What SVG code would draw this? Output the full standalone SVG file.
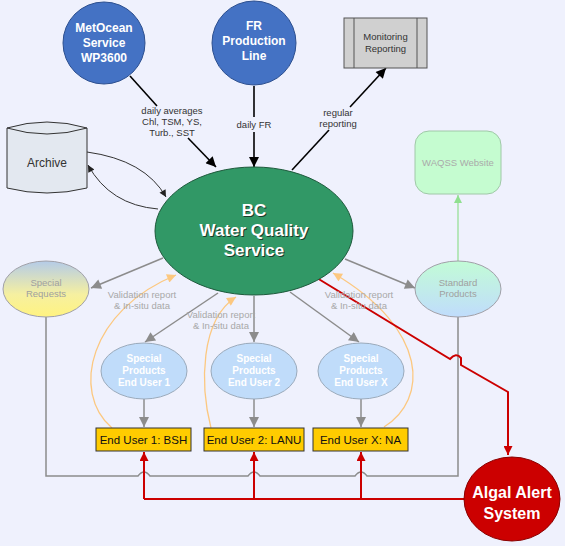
<svg xmlns="http://www.w3.org/2000/svg" width="565" height="546" viewBox="0 0 565 546">
<defs>
<style>
.t{font-family:"Liberation Sans",Arial,sans-serif;text-anchor:middle}
.wb{fill:#fff;font-weight:bold}
.lab{font-size:9.5px;fill:#333}
.val{font-size:9.5px;fill:#a8a8a8}
.gl{fill:none;stroke:#8c8c8c;stroke-width:1.5}
.bl{fill:none;stroke:#000;stroke-width:1.6}
.or{fill:none;stroke:#fcc880;stroke-width:1.3}
.rd{fill:none;stroke:#cc0000;stroke-width:2}
.sp{fill:#c0dcfa;stroke:#9aaabb;stroke-width:1}
.box{fill:#ffcc00;stroke:#333;stroke-width:1}
</style>
<marker id="ab" viewBox="0 0 10 10" refX="10" refY="5" markerUnits="userSpaceOnUse" markerWidth="12" markerHeight="10" orient="auto"><path d="M0,0L10,5L0,10z" fill="#000"/></marker>
<marker id="ag" viewBox="0 0 10 10" refX="10" refY="5" markerUnits="userSpaceOnUse" markerWidth="12" markerHeight="10" orient="auto"><path d="M0,0L10,5L0,10z" fill="#8c8c8c"/></marker>
<marker id="ao" viewBox="0 0 10 10" refX="10" refY="5" markerUnits="userSpaceOnUse" markerWidth="10" markerHeight="9" orient="auto"><path d="M0,0L10,5L0,10z" fill="#fcc880"/></marker>
<marker id="ar" viewBox="0 0 10 10" refX="10" refY="5" markerUnits="userSpaceOnUse" markerWidth="12" markerHeight="9" orient="auto"><path d="M0,0L10,5L0,10z" fill="#cc0000"/></marker>
<marker id="agr" viewBox="0 0 10 10" refX="10" refY="5" markerUnits="userSpaceOnUse" markerWidth="9" markerHeight="8" orient="auto"><path d="M0,0L10,5L0,10z" fill="#90e090"/></marker>
<marker id="ad" viewBox="0 0 10 10" refX="10" refY="5" markerUnits="userSpaceOnUse" markerWidth="8" markerHeight="7" orient="auto"><path d="M0,0L10,5L0,10z" fill="#222"/></marker>
<linearGradient id="gReq" x1="0" y1="0" x2="0" y2="1"><stop offset="0" stop-color="#b4cbe8"/><stop offset="0.6" stop-color="#f6f0a0"/><stop offset="1" stop-color="#fff380"/></linearGradient>
<linearGradient id="gStd" x1="0" y1="0" x2="0" y2="1"><stop offset="0" stop-color="#c2fcd6"/><stop offset="1" stop-color="#c0dcfc"/></linearGradient>
</defs>
<rect width="565" height="546" fill="#eff1fd"/>

<g id="connectors">
<!-- MetOcean -> BC -->
<path class="bl" d="M130,76L157,106"/>
<path class="bl" d="M188,138L216,167" marker-end="url(#ab)"/>
<!-- FR -> BC -->
<path class="bl" d="M254,86L254,117"/>
<path class="bl" d="M254,132L254,167" marker-end="url(#ab)"/>
<!-- BC -> Monitoring -->
<path class="bl" d="M292,170L329,130"/>
<path class="bl" d="M350,107L386,68" marker-end="url(#ab)"/>
<!-- Archive <-> BC -->
<path d="M87,152Q145,160 166,197" fill="none" stroke="#333" stroke-width="1" marker-end="url(#ad)"/>
<path d="M158,209Q110,205 88,165" fill="none" stroke="#333" stroke-width="1" marker-end="url(#ad)"/>
<!-- BC -> outputs -->
<path class="gl" d="M163,258L91,288" marker-end="url(#ag)"/>
<path class="gl" d="M218,293L145,342" marker-end="url(#ag)"/>
<path class="gl" d="M254,296L254,342" marker-end="url(#ag)"/>
<path class="gl" d="M290,292L359,342" marker-end="url(#ag)"/>
<path class="gl" d="M345,259L415,288" marker-end="url(#ag)"/>
<!-- Standard -> WAQSS -->
<path d="M458,261L458,195" fill="none" stroke="#90e090" stroke-width="1.2" marker-end="url(#agr)"/>
<!-- Special products -> end users -->
<path class="gl" d="M144,399L144,427" marker-end="url(#ag)"/>
<path class="gl" d="M254,399L254,427" marker-end="url(#ag)"/>
<path class="gl" d="M361,399L361,427" marker-end="url(#ag)"/>
<!-- bottom gray loop -->
<path class="gl" d="M46,317L46,476L138,476Q144,468 150,476L248,476Q254,468 260,476L355,476Q361,468 367,476L458,476L458,317"/>
<!-- validation feedback -->
<path class="or" d="M112,428C70,392 90,310 176,275" marker-end="url(#ao)"/>
<path class="or" d="M211,428C200,385 200,320 236,297" marker-end="url(#ao)"/>
<path class="or" d="M384,427C428,400 430,330 333,273" marker-end="url(#ao)"/>
<!-- red alert -->
<path class="rd" d="M317,278L450,359Q456,352 461,358L461,365L508,392L508,455" marker-end="url(#ar)"/>
<path class="rd" d="M464,499L144,499"/>
<path class="rd" d="M144,499L144,452" marker-end="url(#ar)"/>
<path class="rd" d="M254,499L254,452" marker-end="url(#ar)"/>
<path class="rd" d="M361,499L361,452" marker-end="url(#ar)"/>
<!-- labels -->
<text class="t lab" x="172" y="114">daily averages</text>
<text class="t lab" x="172" y="125">Chl, TSM, YS,</text>
<text class="t lab" x="172" y="136">Turb., SST</text>
<text class="t lab" x="254" y="128">daily FR</text>
<text class="t lab" x="338" y="116">regular</text>
<text class="t lab" x="338" y="127">reporting</text>
<text class="t val" x="142" y="297.5">Validation report</text>
<text class="t val" x="142" y="308.5">&amp; In-situ data</text>
<text class="t val" x="221" y="317.5">Validation report</text>
<text class="t val" x="221" y="328.5">&amp; In-situ data</text>
<text class="t val" x="359" y="297.5">Validation report</text>
<text class="t val" x="359" y="308.5">&amp; In-situ data</text>
</g>

<g id="metocean">
<circle cx="104" cy="43" r="41" fill="#4472c4" stroke="#2c4f8f" stroke-width="1"/>
<text class="t wb" font-size="12" x="104" y="32">MetOcean</text>
<text class="t wb" font-size="12" x="104" y="47">Service</text>
<text class="t wb" font-size="12" x="104" y="62">WP3600</text>
</g>
<g id="fr">
<circle cx="254" cy="43" r="42" fill="#4472c4" stroke="#2c4f8f" stroke-width="1"/>
<text class="t wb" font-size="12" x="254" y="30">FR</text>
<text class="t wb" font-size="12" x="254" y="45">Production</text>
<text class="t wb" font-size="12" x="254" y="60">Line</text>
</g>
<g id="monitoring">
<rect x="344" y="18" width="83" height="50" fill="#d0d0d0" stroke="#555" stroke-width="1"/>
<path d="M354,18V68M417,18V68" stroke="#555" stroke-width="1"/>
<text class="t" font-size="9.5" fill="#333" x="385.5" y="40">Monitoring</text>
<text class="t" font-size="9.5" fill="#333" x="385.5" y="52">Reporting</text>
</g>
<g id="archive">
<path d="M7,128Q47,116 87,128L87,188Q47,198 7,188Z" fill="#e3e8f0" stroke="#333" stroke-width="1"/>
<path d="M7,128Q47,140 87,128" fill="none" stroke="#333" stroke-width="1"/>
<text class="t" font-size="12" fill="#333" x="47" y="167">Archive</text>
</g>
<g id="waqss">
<rect x="415" y="131" width="86" height="63" rx="14" fill="#c5fcd0" stroke="#a0c8a8" stroke-width="1"/>
<text class="t" font-size="9.5" fill="#aaa" x="458" y="166">WAQSS Website</text>
</g>
<g id="bc">
<ellipse cx="254" cy="231" rx="99" ry="64" fill="#319866" stroke="#1e5a3c" stroke-width="1"/>
<g class="t" font-size="17" font-weight="bold" fill="#1a3a2a">
<text x="255" y="217">BC</text>
<text x="255" y="237">Water Quality</text>
<text x="255" y="257">Service</text>
</g>
<text class="t wb" font-size="17" x="254" y="216">BC</text>
<text class="t wb" font-size="17" x="254" y="236">Water Quality</text>
<text class="t wb" font-size="17" x="254" y="256">Service</text>
</g>
<g id="special-requests">
<ellipse cx="46" cy="289" rx="43" ry="28" fill="url(#gReq)" stroke="#a0a0a8" stroke-width="1"/>
<text class="t" font-size="9.5" fill="#a0a0a0" x="46" y="286">Special</text>
<text class="t" font-size="9.5" fill="#a0a0a0" x="46" y="297">Requests</text>
</g>
<g id="standard-products">
<ellipse cx="458" cy="289" rx="43" ry="28" fill="url(#gStd)" stroke="#a0a0a8" stroke-width="1"/>
<text class="t" font-size="9.5" fill="#a0a0a0" x="458" y="286">Standard</text>
<text class="t" font-size="9.5" fill="#a0a0a0" x="458" y="297">Products</text>
</g>
<g id="sp1">
<ellipse class="sp" cx="144" cy="371" rx="43" ry="28"/>
<text class="t wb" font-size="10" x="144" y="361.5">Special</text>
<text class="t wb" font-size="10" x="144" y="373.5">Products</text>
<text class="t wb" font-size="10" x="144" y="385.5">End User 1</text>
</g>
<g id="sp2">
<ellipse class="sp" cx="254" cy="371" rx="43" ry="28"/>
<text class="t wb" font-size="10" x="254" y="361.5">Special</text>
<text class="t wb" font-size="10" x="254" y="373.5">Products</text>
<text class="t wb" font-size="10" x="254" y="385.5">End User 2</text>
</g>
<g id="spx">
<ellipse class="sp" cx="361" cy="371" rx="43" ry="28"/>
<text class="t wb" font-size="10" x="361" y="361.5">Special</text>
<text class="t wb" font-size="10" x="361" y="373.5">Products</text>
<text class="t wb" font-size="10" x="361" y="385.5">End User X</text>
</g>
<g id="eu1">
<rect class="box" x="96" y="428" width="95" height="23"/>
<text class="t" font-size="11.5" fill="#111" x="143.5" y="444">End User 1: BSH</text>
</g>
<g id="eu2">
<rect class="box" x="204" y="428" width="100" height="23"/>
<text class="t" font-size="11.5" fill="#111" x="254" y="444">End User 2: LANU</text>
</g>
<g id="eux">
<rect class="box" x="313" y="428" width="95" height="23"/>
<text class="t" font-size="11.5" fill="#111" x="360.5" y="444">End User X: NA</text>
</g>
<g id="algal-alert">
<ellipse cx="512" cy="499" rx="48" ry="42" fill="#cc0000" stroke="#8a0000" stroke-width="1"/>
<text class="t wb" font-size="16" x="512" y="498">Algal Alert</text>
<text class="t wb" font-size="16" x="512" y="519">System</text>
</g>
</svg>
